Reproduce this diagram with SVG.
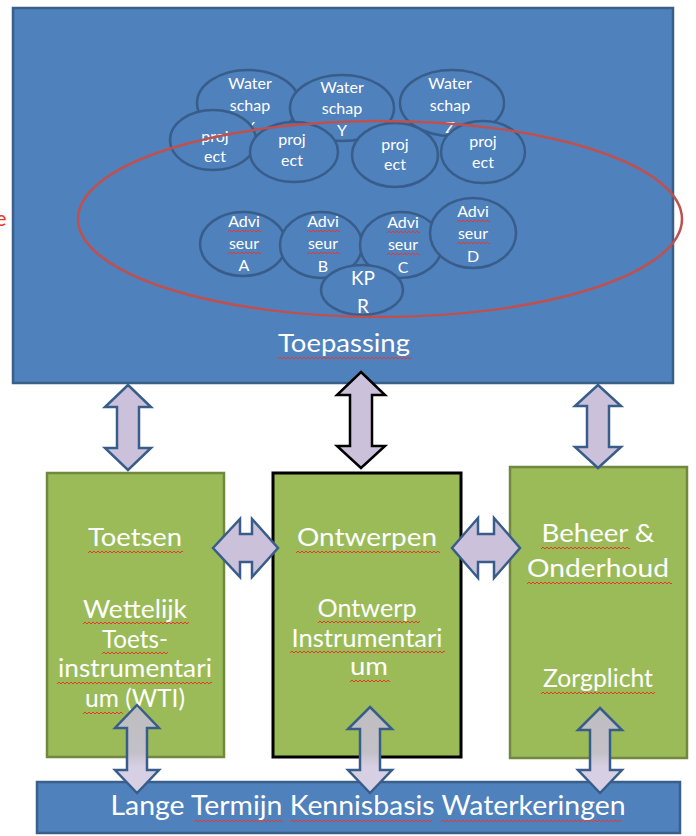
<svg xmlns="http://www.w3.org/2000/svg" width="696" height="836" viewBox="0 0 696 836">
<defs>
<style>
.big{fill:#4F81BD;stroke:#3A5F8B;stroke-width:2.5}
.grn{fill:#9BBB59;stroke:#71893F;stroke-width:2.5}
.el{fill:#4F81BD;stroke:#385D8A;stroke-width:2.5}
.t{font-family:Lato,"Open Sans",sans-serif;fill:#FFFFFF;text-anchor:middle}
.s{font-size:16px}
.l{font-size:25px}
.arr{fill:#CCC1DA;stroke:#385D8A;stroke-width:2.5;stroke-linejoin:miter}
.arrk{fill:#CCC1DA;stroke:#000000;stroke-width:2.5}
.arrg{fill:url(#gr);stroke:#385D8A;stroke-width:2.5}
.sq{fill:url(#sqp)}
</style>
<pattern id="sqp" width="4" height="4" patternUnits="userSpaceOnUse"><path d="M0,3 L2,1 L4,3" fill="none" stroke="#E8372C" stroke-width="1"/></pattern>
<linearGradient id="gr" x1="0" y1="700" x2="0" y2="795" gradientUnits="userSpaceOnUse">
<stop offset="0" stop-color="#BDBDBD"/><stop offset="0.55" stop-color="#C3C0C8"/><stop offset="0.7" stop-color="#D7CFE3"/><stop offset="1" stop-color="#D7CFE3"/>
</linearGradient>
</defs>

<text x="-5" y="226" font-family="Lato, sans-serif" font-size="22" fill="#E8372C">e</text>

<g id="toepassing">
<rect class="big" x="13" y="8" width="660" height="375"/>
<text class="t l" x="344" y="352" textLength="132" lengthAdjust="spacingAndGlyphs">Toepassing</text>
<rect class="sq" width="134" height="4" transform="translate(278,356)"/>
</g>

<g id="waterschap-x"><ellipse class="el" cx="248" cy="103" rx="51" ry="33"/>
<text class="t s" x="250" y="89">Water</text><text class="t s" x="250" y="111">schap</text><text class="t s" x="250" y="133">X</text></g>
<g id="waterschap-y"><ellipse class="el" cx="342" cy="108" rx="52" ry="33"/>
<text class="t s" x="342" y="93">Water</text><text class="t s" x="342" y="114">schap</text><text class="t s" x="342" y="136">Y</text></g>
<g id="waterschap-z"><ellipse class="el" cx="452" cy="103" rx="52" ry="33"/>
<text class="t s" x="450" y="89">Water</text><text class="t s" x="450" y="111">schap</text><text class="t s" x="450" y="133">Z</text></g>

<g id="project-1"><ellipse class="el" cx="213" cy="140" rx="43" ry="30"/>
<text class="t s" x="215" y="142">proj</text><text class="t s" x="215" y="162">ect</text></g>
<g id="project-2"><ellipse class="el" cx="294" cy="152" rx="44" ry="30"/>
<text class="t s" x="292" y="145">proj</text><text class="t s" x="292" y="166">ect</text></g>
<g id="project-3"><ellipse class="el" cx="395" cy="155" rx="43" ry="32"/>
<text class="t s" x="395" y="150">proj</text><text class="t s" x="395" y="170">ect</text></g>
<g id="project-4"><ellipse class="el" cx="483" cy="152" rx="42" ry="31"/>
<text class="t s" x="483" y="147">proj</text><text class="t s" x="483" y="168">ect</text></g>

<g id="adviseur-a"><ellipse class="el" cx="243" cy="244" rx="43" ry="32"/>
<text class="t s" x="244" y="227">Advi</text><text class="t s" x="244" y="249">seur</text><text class="t s" x="244" y="271">A</text>
<rect class="sq" width="33" height="4" transform="translate(228,229)"/><rect class="sq" width="33" height="4" transform="translate(228,251)"/></g>
<g id="adviseur-b"><ellipse class="el" cx="321" cy="245" rx="41" ry="33"/>
<text class="t s" x="323" y="227">Advi</text><text class="t s" x="323" y="249">seur</text><text class="t s" x="323" y="272">B</text>
<rect class="sq" width="33" height="4" transform="translate(307,229)"/><rect class="sq" width="33" height="4" transform="translate(307,251)"/></g>
<g id="adviseur-c"><ellipse class="el" cx="401" cy="245" rx="41" ry="33"/>
<text class="t s" x="403" y="228">Advi</text><text class="t s" x="403" y="250">seur</text><text class="t s" x="403" y="273">C</text>
<rect class="sq" width="33" height="4" transform="translate(387,230)"/><rect class="sq" width="33" height="4" transform="translate(387,252)"/></g>
<g id="adviseur-d"><ellipse class="el" cx="473" cy="233" rx="43" ry="35"/>
<text class="t s" x="473" y="217">Advi</text><text class="t s" x="473" y="239">seur</text><text class="t s" x="473" y="262">D</text>
<rect class="sq" width="33" height="4" transform="translate(457,219)"/><rect class="sq" width="33" height="4" transform="translate(457,241)"/></g>
<g id="kpr"><ellipse class="el" cx="362" cy="290" rx="41" ry="25"/>
<text class="t" font-size="19" x="363" y="285">KP</text><text class="t" font-size="19" x="363" y="313">R</text></g>

<g id="scope-ellipse"><ellipse cx="380" cy="219" rx="302" ry="98" fill="none" stroke="#C0504D" stroke-width="2.5"/></g>

<g id="toetsen">
<rect class="grn" x="47" y="473" width="177" height="284"/>
<text class="t l" x="135" y="546" textLength="94" lengthAdjust="spacingAndGlyphs">Toetsen</text>
<text class="t l" x="135" y="618" textLength="104" lengthAdjust="spacingAndGlyphs">Wettelijk</text>
<text class="t l" x="135" y="648" textLength="66" lengthAdjust="spacingAndGlyphs">Toets-</text>
<text class="t l" x="135" y="677" textLength="154" lengthAdjust="spacingAndGlyphs">instrumentari</text>
<text class="t l" x="135" y="707" textLength="100" lengthAdjust="spacingAndGlyphs">um (WTI)</text>
<rect class="sq" width="95" height="4" transform="translate(88,550)"/>
<rect class="sq" width="106" height="4" transform="translate(83,621)"/>
<rect class="sq" width="66" height="4" transform="translate(102,651)"/>
<rect class="sq" width="155" height="4" transform="translate(57,681)"/>
<rect class="sq" width="40" height="4" transform="translate(83,711)"/>
</g>

<g id="ontwerpen">
<rect x="273" y="473" width="188" height="284" fill="#9BBB59" stroke="#000000" stroke-width="3"/>
<text class="t l" x="367" y="546" textLength="140" lengthAdjust="spacingAndGlyphs">Ontwerpen</text>
<text class="t l" x="367" y="617" textLength="99" lengthAdjust="spacingAndGlyphs">Ontwerp</text>
<text class="t l" x="367" y="647" textLength="151" lengthAdjust="spacingAndGlyphs">Instrumentari</text>
<text class="t l" x="369" y="675" textLength="38" lengthAdjust="spacingAndGlyphs">um</text>
<rect class="sq" width="144" height="4" transform="translate(296,550)"/>
<rect class="sq" width="102" height="4" transform="translate(318,620)"/>
<rect class="sq" width="155" height="4" transform="translate(290,650)"/>
<rect class="sq" width="40" height="4" transform="translate(350,679)"/>
</g>

<g id="beheer">
<rect class="grn" x="510" y="467" width="177" height="291"/>
<text class="t l" x="598" y="542" textLength="113" lengthAdjust="spacingAndGlyphs">Beheer &amp;</text>
<text class="t l" x="598" y="577" textLength="142" lengthAdjust="spacingAndGlyphs">Onderhoud</text>
<text class="t l" x="598" y="687" textLength="110" lengthAdjust="spacingAndGlyphs">Zorgplicht</text>
<rect class="sq" width="89" height="4" transform="translate(541,546)"/>
<rect class="sq" width="145" height="4" transform="translate(527,581)"/>
<rect class="sq" width="114" height="4" transform="translate(541,691)"/>
</g>

<g id="kennisbasis">
<rect class="big" x="37" y="782" width="643" height="51"/>
<text class="t" font-size="26" x="368" y="815" textLength="515" lengthAdjust="spacingAndGlyphs">Lange Termijn Kennisbasis Waterkeringen</text>
<rect class="sq" width="89" height="4" transform="translate(194,819)"/>
<rect class="sq" width="142" height="4" transform="translate(290,819)"/>
<rect class="sq" width="180" height="4" transform="translate(441,819)"/>
</g>

<g id="connectors">
<path class="arr" d="M128,385 L151,407 L139,407 L139,448 L151,448 L128,470 L105,448 L117,448 L117,407 L105,407 Z"/>
<path class="arrk" d="M361,372 L385,395 L372,395 L372,446 L385,446 L361,468 L337,446 L350,446 L350,395 L337,395 Z"/>
<path class="arr" d="M598,385 L621,406 L609,406 L609,447 L621,447 L598,468 L575,447 L587,447 L587,406 L575,406 Z"/>
<path class="arr" d="M213,548 L240,519 L240,534 L252,534 L252,519 L278,548 L252,577 L252,562 L240,562 L240,577 Z"/>
<path class="arr" d="M452,548 L478,518 L478,534 L494,534 L494,518 L520,548 L494,578 L494,562 L478,562 L478,578 Z"/>
<path class="arrg" d="M137,705 L159,728 L147,728 L147,770 L159,770 L137,793 L115,770 L127,770 L127,728 L115,728 Z"/>
<path class="arrg" d="M370,707 L392,729 L380,729 L380,770 L392,770 L370,793 L348,770 L360,770 L360,729 L348,729 Z"/>
<path class="arrg" d="M600,708 L622,730 L610,730 L610,770 L622,770 L600,793 L578,770 L590,770 L590,730 L578,730 Z"/>
</g>
</svg>
